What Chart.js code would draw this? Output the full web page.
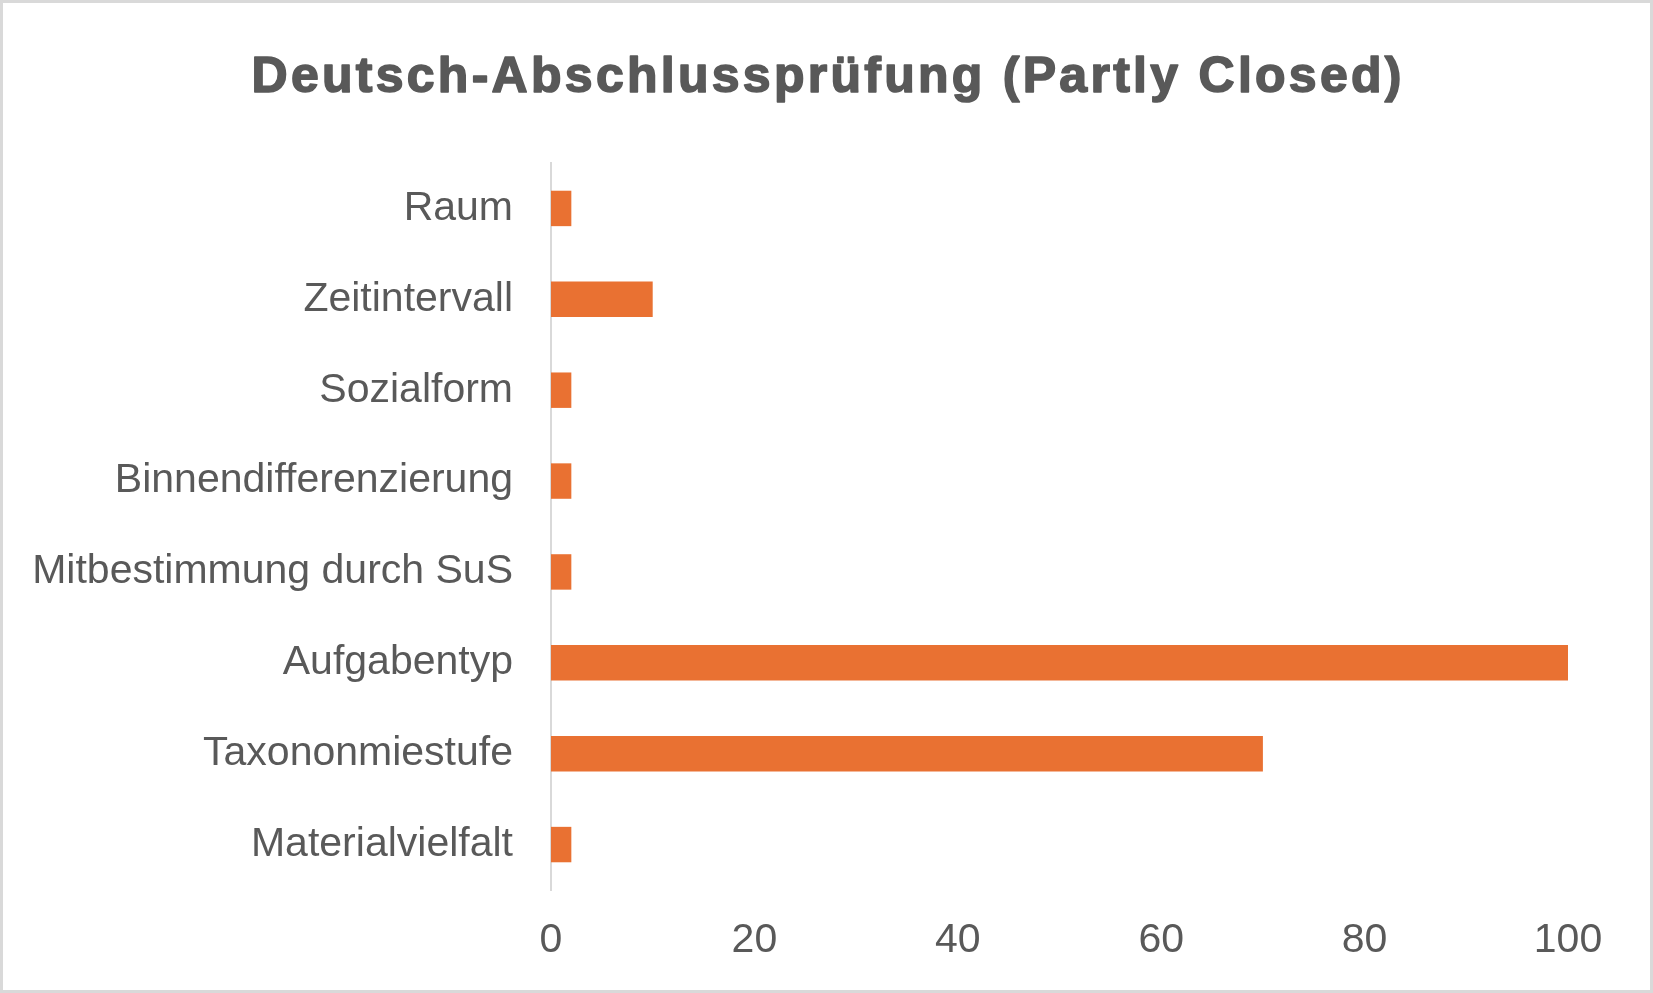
<!DOCTYPE html>
<html>
<head>
<meta charset="utf-8">
<script src="https://cdn.jsdelivr.net/npm/chart.js@4"></script>
<style>
  html, body { margin: 0; padding: 0; background: #fff; }
  #wrap { width: 1653px; height: 993px; box-sizing: border-box; border: 3px solid #d9d9d9; background: #fff; position: relative; }
  #wrap canvas { display: block; }
</style>
</head>
<body>
<div id="wrap"><canvas id="c" width="1647" height="987"></canvas></div>
<script>
const titleText = 'Deutsch-Abschlussprüfung (Partly Closed)';
const categories = ['Raum', 'Zeitintervall', 'Sozialform', 'Binnendifferenzierung', 'Mitbestimmung durch SuS', 'Aufgabentyp', 'Taxononmiestufe', 'Materialvielfalt'];
const values = [2, 10, 2, 2, 2, 100, 70, 2];
const xTicks = [0, 20, 40, 60, 80, 100];

const textColor = '#595959';
const fontFamily = '"Liberation Sans", Arial, sans-serif';

// Title drawn as real canvas text, letter-spaced and slightly heavier like the reference
const titlePlugin = {
  id: 'heavyTitle',
  afterDraw(chart) {
    const ctx = chart.ctx;
    ctx.save();
    ctx.font = 'bold 50px ' + fontFamily;
    ctx.fillStyle = textColor;
    ctx.strokeStyle = textColor;
    ctx.lineWidth = 1.6;
    ctx.lineJoin = 'round';
    ctx.textBaseline = 'alphabetic';
    ctx.textAlign = 'left';
    const natural = ctx.measureText(titleText).width;
    const targetWidth = 1150;
    const n = [...titleText].length;
    const spacing = (targetWidth - natural) / (n - 1);
    if ('letterSpacing' in ctx) ctx.letterSpacing = spacing + 'px';
    const x = chart.width / 2 - targetWidth / 2;
    const y = 88.5;
    ctx.fillText(titleText, x, y);
    ctx.strokeText(titleText, x, y);
    ctx.restore();
  }
};

new Chart(document.getElementById('c'), {
  type: 'bar',
  data: {
    labels: categories,
    datasets: [{
      data: values,
      backgroundColor: '#E97132',
      borderWidth: 0,
      categoryPercentage: 1,
      barPercentage: 0.39
    }]
  },
  plugins: [titlePlugin],
  options: {
    indexAxis: 'y',
    responsive: false,
    animation: false,
    devicePixelRatio: 1,
    layout: { padding: { left: 30, right: 82, top: 160, bottom: 25 } },
    plugins: {
      legend: { display: false },
      tooltip: { enabled: false },
      title: { display: false }
    },
    scales: {
      x: {
        min: 0,
        max: 100,
        afterBuildTicks: (scale) => { scale.ticks = xTicks.map(v => ({ value: v })); },
        afterFit: (scale) => {
          scale.height = 75;
          scale.paddingLeft = 0; scale.paddingRight = 0; scale.paddingTop = 0; scale.paddingBottom = 0;
        },
        grid: { display: false, drawTicks: false },
        border: { display: false },
        ticks: { color: textColor, font: { family: fontFamily, size: 41 }, padding: 26, maxRotation: 0 }
      },
      y: {
        afterFit: (scale) => {
          scale.width = 518;
          scale.paddingLeft = 0; scale.paddingRight = 0; scale.paddingTop = 0; scale.paddingBottom = 0;
        },
        grid: { display: false, drawTicks: false },
        border: { display: true, color: '#d9d9d9', width: 2 },
        ticks: { color: textColor, font: { family: fontFamily, size: 41 }, padding: 38 }
      }
    }
  }
});
</script>
</body>
</html>
